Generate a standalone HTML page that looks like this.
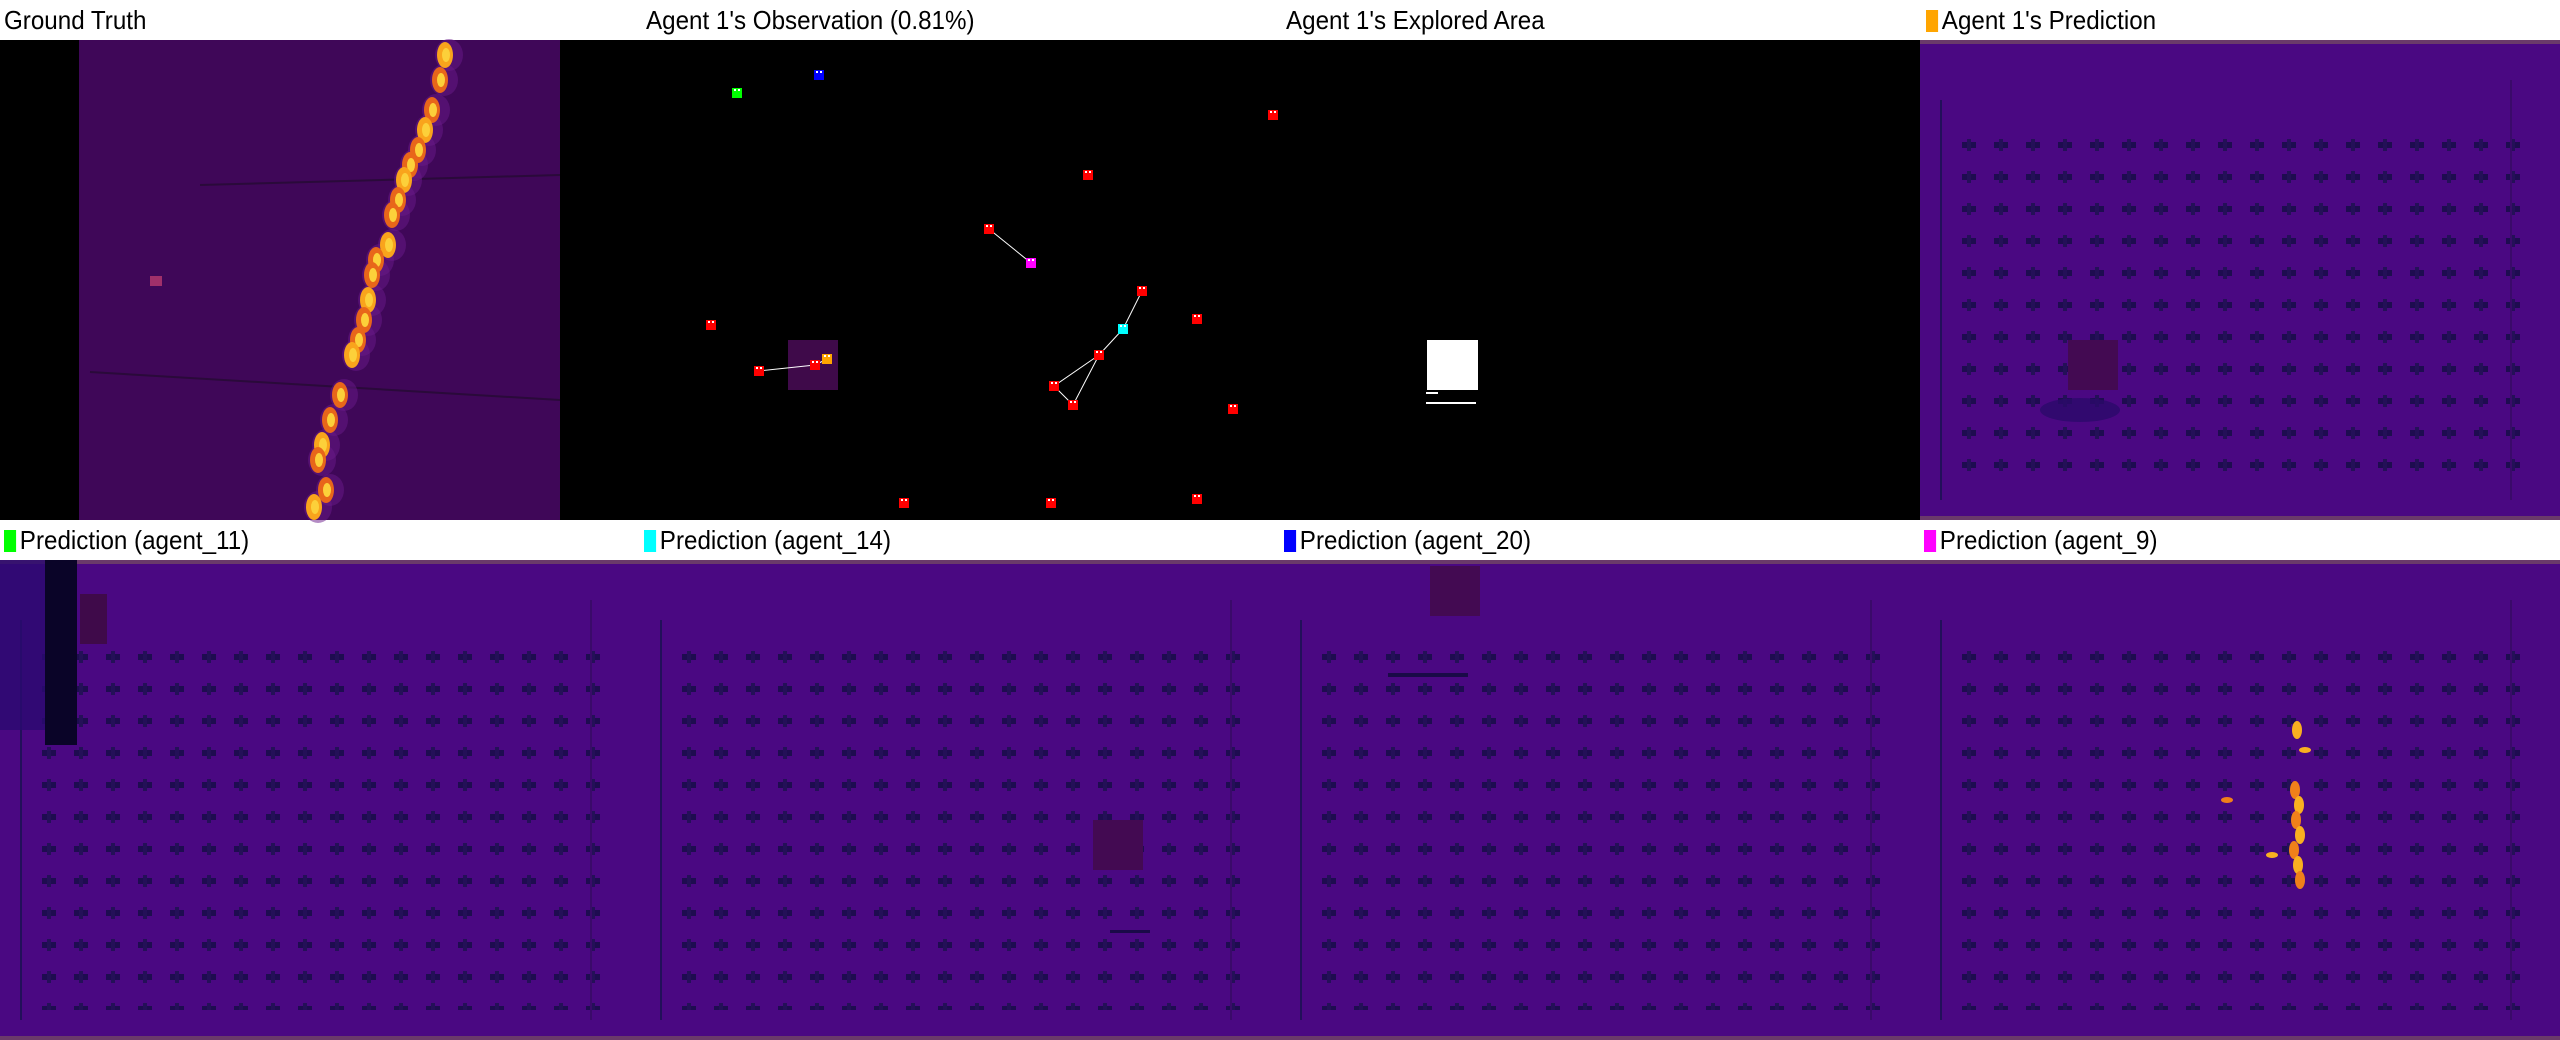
<!DOCTYPE html>
<html><head><meta charset="utf-8">
<style>
html,body{margin:0;padding:0;background:#fff;}
body{width:2560px;height:1040px;position:relative;overflow:hidden;font-family:"Liberation Sans",sans-serif;}
.title{position:absolute;height:40px;line-height:40px;font-size:26px;color:#000;white-space:nowrap;transform:scaleX(0.93);transform-origin:left center;}
.sw{display:inline-block;width:13px;height:22px;vertical-align:-3px;margin-right:4px;}
svg{position:absolute;left:0;top:0;}
</style></head>
<body>
<div class="title" style="left:4px;top:0">Ground Truth</div>
<div class="title" style="left:646px;top:0">Agent 1's Observation (0.81%)</div>
<div class="title" style="left:1286px;top:0">Agent 1's Explored Area</div>
<div class="title" style="left:1926px;top:0"><span class="sw" style="background:#ffa500"></span>Agent 1's Prediction</div>
<div class="title" style="left:4px;top:520px"><span class="sw" style="background:#00ff00"></span>Prediction (agent_11)</div>
<div class="title" style="left:644px;top:520px"><span class="sw" style="background:#00ffff"></span>Prediction (agent_14)</div>
<div class="title" style="left:1284px;top:520px"><span class="sw" style="background:#0000ff"></span>Prediction (agent_20)</div>
<div class="title" style="left:1924px;top:520px"><span class="sw" style="background:#ff00ff"></span>Prediction (agent_9)</div>

<svg id="main" width="2560" height="1040" xmlns="http://www.w3.org/2000/svg" style="pointer-events:none">
<defs>
<pattern id="dots" width="32" height="32" patternUnits="userSpaceOnUse" x="0" y="0">
<rect x="10" y="14" width="14" height="6" fill="#1e0c50"/>
<rect x="15" y="11" width="4" height="12" fill="#241058"/>
</pattern>
</defs>
</svg>

<script>
const NS='http://www.w3.org/2000/svg';
const svg=document.getElementById('main');
function mk(tag,attrs,parent){const e=document.createElementNS(NS,tag);for(const k in attrs)e.setAttribute(k,attrs[k]);(parent||svg).appendChild(e);return e;}

// Data: agent marker positions in observation panel (pixel coords of source map)
const agentX=[819,737,1273,1088,989,1031,1142,1197,711,1123,1099,827,815,759,1054,1073,1233,904,1051,1197];
const agentY=[75,93,115,175,229,263,291,319,325,329,355,359,365,371,386,405,409,503,503,499];
const agentColor=['#0000ff','#00ff00','red','red','red','#ff00ff','red','red','red','#00ffff','red','#ffa500','red','red','red','red','red','red','red','red'];
const linkFrom=[4,6,9,10,14,15,13,12];
const linkTo=[5,9,10,14,15,10,12,11];
// fire blobs in ground truth: x,y
const fireX=[445,440,432,425,418,410,404,398,392,388,376,372,368,364,358,352,340,330,322,318,326,314];
const fireY=[55,80,110,130,150,165,180,200,215,245,260,275,300,320,340,355,395,420,445,460,490,507];
const fire9X=[2297,2295,2299,2296,2300,2294,2298,2300,2272,2227,2305];
const fire9Y=[730,790,805,820,835,850,865,880,855,800,750];

// Ground truth panel
mk('rect',{x:0,y:40,width:640,height:480,fill:'#000'});
let gt=mk('rect',{x:79,y:40,width:481,height:480,fill:'#3f0758'});


mk('rect',{x:150,y:276,width:12,height:10,fill:'#a0306a'});
mk('line',{x1:90,y1:372,x2:560,y2:400,stroke:'#2a0a3a','stroke-width':2});
mk('line',{x1:200,y1:185,x2:560,y2:175,stroke:'#2a0a3a','stroke-width':2});
for(let i=0;i<fireX.length;i++){
  mk('ellipse',{cx:fireX[i]+4,cy:fireY[i],rx:14,ry:16,fill:'#6a1a8a',opacity:0.5});
}
for(let i=0;i<fireX.length;i++){
  let f=mk('ellipse',{cx:fireX[i],cy:fireY[i],rx:8,ry:13,fill:i%3==0?'#f9a41c':'#e8661a'});
  
  
  mk('ellipse',{cx:fireX[i]+1,cy:fireY[i],rx:4,ry:7,fill:'#fcd03a'});
}

// Observation panel
let ob=mk('rect',{x:640,y:40,width:640,height:480,fill:'#000'});


mk('rect',{x:788,y:340,width:50,height:50,fill:'#3f0a4a'});
for(let i=0;i<linkFrom.length;i++){
  let l=mk('line',{x1:agentX[linkFrom[i]],y1:agentY[linkFrom[i]],x2:agentX[linkTo[i]],y2:agentY[linkTo[i]],stroke:'#fff','stroke-width':1});
  
  
}
for(let i=0;i<agentX.length;i++){
  let m=mk('rect',{x:agentX[i]-5,y:agentY[i]-5,width:10,height:10,fill:agentColor[i]});
  
  
  mk('rect',{x:agentX[i]-3,y:agentY[i]-4,width:2,height:2,fill:'#fff'});
  mk('rect',{x:agentX[i]+1,y:agentY[i]-4,width:2,height:2,fill:'#fff'});
}

// Explored area
let ex=mk('rect',{x:1280,y:40,width:640,height:480,fill:'#000'});


mk('rect',{x:1427,y:340,width:51,height:50,fill:'#fff'});
mk('rect',{x:1426,y:392,width:12,height:2,fill:'#fff'});
mk('rect',{x:1426,y:402,width:50,height:2,fill:'#fff'});

// Prediction panels
const predX=[1920,0,640,1280,1920];
const predY=[40,560,560,560,560];
const predNames=['agent1-prediction-map','agent11-prediction-map','agent14-prediction-map','agent20-prediction-map','agent9-prediction-map'];
for(let i=0;i<predX.length;i++){
  let p=mk('rect',{x:predX[i],y:predY[i],width:640,height:480,fill:'#4a0882'});
  
  
  mk('rect',{x:predX[i]+40,y:predY[i]+90,width:560,height:360,fill:'url(#dots)'});
  mk('rect',{x:predX[i],y:predY[i],width:640,height:4,fill:'#6a3a6a'});
  mk('rect',{x:predX[i],y:predY[i]+476,width:640,height:4,fill:'#6a3a6a'});
  mk('rect',{x:predX[i]+20,y:predY[i]+60,width:2,height:400,fill:'#22105a'});
  mk('rect',{x:predX[i]+590,y:predY[i]+40,width:2,height:420,fill:'#3a0a6a'});
}
// specific artifacts
mk('rect',{x:2068,y:340,width:50,height:50,fill:'#430a52'});
mk('ellipse',{cx:2080,cy:410,rx:40,ry:12,fill:'#2a0a6a',opacity:0.8});
mk('rect',{x:45,y:560,width:32,height:185,fill:'#0a0428'});
mk('rect',{x:0,y:560,width:45,height:170,fill:'#2a0a70',opacity:0.8});
mk('rect',{x:80,y:594,width:27,height:50,fill:'#3f0a4a'});
mk('rect',{x:1093,y:820,width:50,height:50,fill:'#430a52'});
mk('rect',{x:1110,y:930,width:40,height:3,fill:'#1a0a48'});
mk('rect',{x:1430,y:566,width:50,height:50,fill:'#430a52'});
mk('rect',{x:1388,y:673,width:80,height:4,fill:'#1a0a48'});
for(let i=0;i<fire9X.length;i++){
  let f=mk('ellipse',{cx:fire9X[i],cy:fire9Y[i],rx:i>=8?6:5,ry:i>=8?3:9,fill:i%2?'#f0801a':'#f9b020'});
  
  
}
</script>
</body></html>
